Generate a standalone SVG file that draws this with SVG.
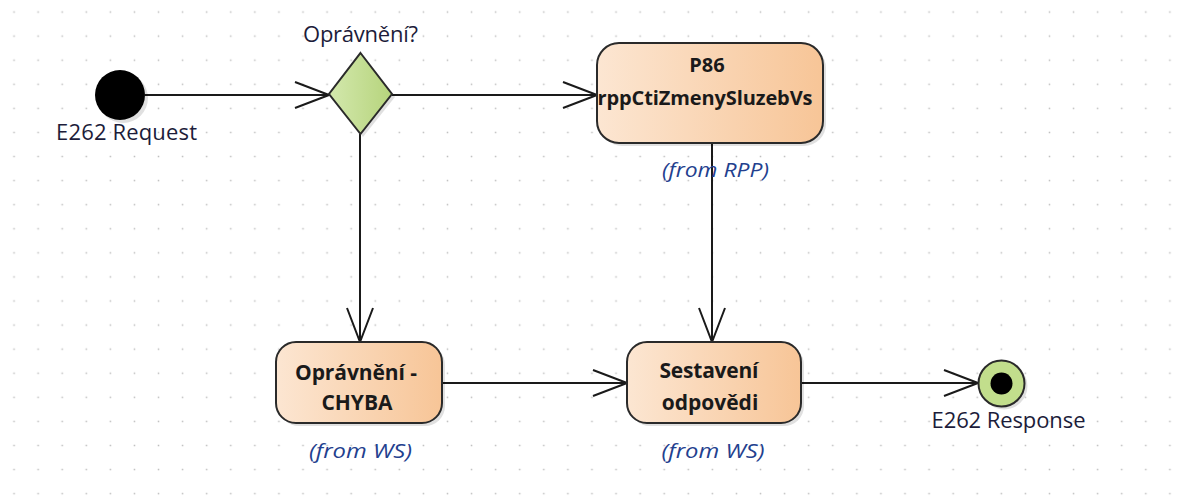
<svg xmlns="http://www.w3.org/2000/svg" width="1192" height="496" viewBox="0 0 1192 496">
<defs>
<pattern id="grid" x="2" y="0" width="24.08" height="24.08" patternUnits="userSpaceOnUse">
<rect x="11.3" y="11.3" width="1.5" height="1.5" fill="#bdbdbd"/>
</pattern>
<linearGradient id="peach" x1="0" y1="0" x2="1" y2="0">
<stop offset="0" stop-color="#fce6d2"/>
<stop offset="1" stop-color="#f7c597"/>
</linearGradient>
<linearGradient id="green" x1="0" y1="0" x2="1" y2="0">
<stop offset="0" stop-color="#d3e8ad"/>
<stop offset="1" stop-color="#b6d47c"/>
</linearGradient>
<marker id="arr" viewBox="0 0 36 28" refX="35" refY="14" markerWidth="36" markerHeight="28" markerUnits="userSpaceOnUse" orient="auto">
<path d="M1,1 L35,14 L1,27" fill="none" stroke="#1a1a1a" stroke-width="2"/>
</marker>
</defs>
<style>
.lbl{font-family:"Open Sans","Noto Sans","DejaVu Sans",sans-serif;font-size:22px;fill:#1c1c3a}
.bold{font-family:"Open Sans","Noto Sans","DejaVu Sans",sans-serif;font-size:21px;font-weight:bold;fill:#1a1a1a}
.from{font-family:"Open Sans","Noto Sans","DejaVu Sans",sans-serif;font-size:20px;font-style:italic;fill:#23408e}
.box{fill:url(#peach);stroke:#2a2a2a;stroke-width:2}
.shadow{fill:#000;opacity:0.12}
.edge{fill:none;stroke:#1a1a1a;stroke-width:2;marker-end:url(#arr)}
</style>
<rect width="1192" height="496" fill="#ffffff"/>
<rect width="1192" height="496" fill="url(#grid)"/>

<g id="connectors">
<path class="edge" d="M145,95 L329,95"/>
<path class="edge" d="M392,95 L597,95"/>
<path class="edge" d="M360,134 L360,342"/>
<path class="edge" d="M712,143 L712,342"/>
<path class="edge" d="M442,383 L627,383"/>
<path class="edge" d="M801,383 L978,383"/>
</g>

<g id="start">
<circle cx="123" cy="98" r="25" class="shadow"/>
<circle cx="120" cy="95" r="25" fill="#000"/>
<text class="lbl" x="126.5" y="140" text-anchor="middle" textLength="141">E262 Request</text>
</g>

<g id="decision">
<polygon points="363,56 395,97 363,137 332,97" class="shadow"/>
<polygon points="360.5,53 392,94 360.5,134 329,94" fill="url(#green)" stroke="#2a2a2a" stroke-width="2"/>
<text class="lbl" x="360.5" y="42" text-anchor="middle" textLength="115">Oprávnění?</text>
</g>

<g id="p86">
<rect x="600" y="46" width="226" height="100" rx="22" class="shadow"/>
<rect x="597" y="43" width="226" height="100" rx="22" class="box"/>
<text class="bold" x="707" y="72" text-anchor="middle" style="font-size:20px">P86</text>
<text class="bold" x="705" y="105" text-anchor="middle" style="font-size:20px" textLength="215">rppCtiZmenySluzebVs</text>
<text class="from" x="715.5" y="177" text-anchor="middle" textLength="107" lengthAdjust="spacingAndGlyphs">(from RPP)</text>
</g>

<g id="chyba">
<rect x="279" y="345" width="166" height="81" rx="20" class="shadow"/>
<rect x="276" y="342" width="166" height="81" rx="20" class="box"/>
<text class="bold" x="356" y="380" text-anchor="middle" textLength="122">Oprávnění -</text>
<text class="bold" x="357" y="410" text-anchor="middle">CHYBA</text>
<text class="from" x="360.5" y="458" text-anchor="middle" textLength="103" lengthAdjust="spacingAndGlyphs">(from WS)</text>
</g>

<g id="sestaveni">
<rect x="630" y="345" width="174" height="81" rx="20" class="shadow"/>
<rect x="627" y="342" width="174" height="81" rx="20" class="box"/>
<text class="bold" x="709" y="378" text-anchor="middle" textLength="99">Sestavení</text>
<text class="bold" x="710" y="410" text-anchor="middle">odpovědi</text>
<text class="from" x="713" y="458" text-anchor="middle" textLength="103" lengthAdjust="spacingAndGlyphs">(from WS)</text>
</g>

<g id="end">
<circle cx="1004" cy="386" r="23.5" class="shadow"/>
<circle cx="1001.5" cy="383.5" r="23" fill="#c2de8c" stroke="#2a2a2a" stroke-width="2"/>
<circle cx="1001.5" cy="383.5" r="11" fill="#000"/>
<text class="lbl" x="1008.5" y="428" text-anchor="middle" textLength="154">E262 Response</text>
</g>
</svg>
